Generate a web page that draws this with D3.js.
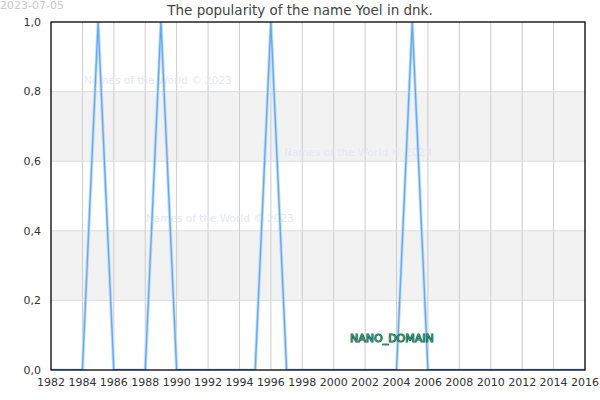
<!DOCTYPE html>
<html>
<head>
<meta charset="utf-8">
<script src="https://cdn.jsdelivr.net/npm/d3@7"></script>
<style>
  body { margin: 0; background: #fff; }
  svg { font-family: "DejaVu Sans", sans-serif; }
</style>
</head>
<body>
<div id="chart"></div>
<script>
// one value per year, 1982..2016
var years = d3.range(1982, 2017);
var popularity = [0,0,0,1,0,0,0,1,0,0,0,0,0,0,1,0,0,0,0,0,0,0,0,1,0,0,0,0,0,0,0,0,0,0,0];
var xTicks = d3.range(1982, 2017, 2);
var yTicks = [0, 0.2, 0.4, 0.6, 0.8, 1.0];
var bands = [[0.2, 0.4], [0.6, 0.8]];
var watermarks = [[84, 80], [284, 152], [146, 218]];

var W = 600, H = 400;
var m = {top: 22, right: 15, bottom: 30, left: 51};

var svg = d3.select('#chart').append('svg')
  .attr('width', W).attr('height', H);

var x = d3.scaleLinear().domain([1982, 2016]).range([m.left, W - m.right]);
var y = d3.scaleLinear().domain([0, 1]).range([H - m.bottom, m.top]);

// shaded bands
svg.selectAll('rect.band').data(bands).enter().append('rect')
  .attr('class', 'band')
  .attr('x', x(1982)).attr('width', x(2016) - x(1982))
  .attr('y', function(d){ return y(d[1]); })
  .attr('height', function(d){ return y(d[0]) - y(d[1]); })
  .style('fill', '#f2f2f2');

// grid
svg.selectAll('line.vg').data(xTicks.slice(1, -1)).enter().append('line')
  .attr('x1', function(d){ return x(d); }).attr('x2', function(d){ return x(d); })
  .attr('y1', y(1)).attr('y2', y(0))
  .style('stroke', '#cccccc').style('stroke-width', 1);

svg.selectAll('line.hg').data(yTicks.slice(1, -1)).enter().append('line')
  .attr('x1', x(1982)).attr('x2', x(2016))
  .attr('y1', function(d){ return y(d); }).attr('y2', function(d){ return y(d); })
  .style('stroke', '#dddddd').style('stroke-width', 1);

// watermarks
svg.selectAll('text.wm').data(watermarks).enter().append('text')
  .attr('x', function(d){ return d[0]; })
  .attr('y', function(d){ return d[1]; })
  .attr('dy', '0.35em')
  .style('font-size', '10.5px')
  .style('fill', '#e6e6f8')
  .text('Names of the World © 2023');

// the line
svg.append('clipPath').attr('id', 'clip').append('rect')
  .attr('x', x(1982)).attr('y', y(1)).attr('width', x(2016) - x(1982)).attr('height', y(0) - y(1));

var line = d3.line()
  .x(function(d, i){ return x(years[i]); })
  .y(function(d){ return y(d); });

svg.append('path').datum(popularity)
  .attr('d', line).attr('clip-path', 'url(#clip)')
  .style('fill', 'none').style('stroke', '#c2ddf9').style('stroke-width', 3.2);
svg.append('path').datum(popularity)
  .attr('d', line).attr('clip-path', 'url(#clip)')
  .style('fill', 'none').style('stroke', '#66aaee').style('stroke-width', 1.4);

// frame
svg.append('rect')
  .attr('x', x(1982)).attr('y', y(1))
  .attr('width', x(2016) - x(1982)).attr('height', y(0) - y(1))
  .style('fill', 'none').style('stroke', '#000').style('stroke-width', 1.3);

// axes labels
var fmt = function(d){ return d3.format('.1f')(d).replace('.', ','); };
svg.selectAll('text.yl').data(yTicks).enter().append('text')
  .attr('x', m.left - 10).attr('y', function(d){ return y(d); })
  .attr('dy', '0.35em').attr('text-anchor', 'end')
  .style('font-size', '11px').style('fill', '#333')
  .text(fmt);

svg.selectAll('text.xl').data(xTicks).enter().append('text')
  .attr('x', function(d){ return x(d); }).attr('y', H - m.bottom + 12)
  .attr('dy', '0.35em').attr('text-anchor', 'middle')
  .style('font-size', '11px').style('fill', '#333')
  .text(function(d){ return d; });

// title + date
svg.append('text')
  .attr('x', 300).attr('y', 10).attr('dy', '0.35em').attr('text-anchor', 'middle')
  .style('font-size', '13.5px').style('fill', '#444')
  .text('The popularity of the name Yoel in dnk.');

svg.append('text')
  .attr('x', 0).attr('y', 9)
  .style('font-size', '11px').style('fill', '#c8c8c8')
  .text('2023-07-05');

svg.append('text')
  .attr('x', 350).attr('y', 338).attr('dy', '0.35em')
  .style('font-size', '11px')
  .style('fill', '#2e9e7e').style('stroke', '#14503c').style('stroke-width', 1)
  .style('paint-order', 'stroke')
  .text('NANO_DOMAIN');
</script>
</body>
</html>
